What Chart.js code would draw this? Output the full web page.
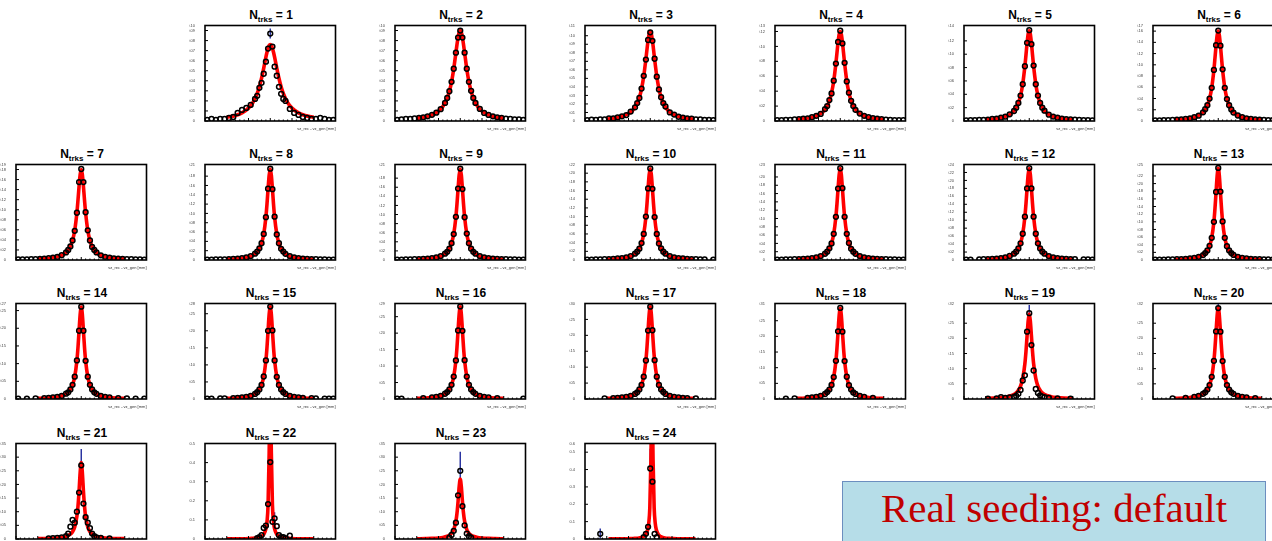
<!DOCTYPE html>
<html>
<head>
<meta charset="utf-8">
<script src="https://cdn.jsdelivr.net/npm/chart.js@4"></script>
<style>
  body { margin: 0; width: 1272px; height: 541px; overflow: hidden; background: #fff; position: relative; font-family: "Liberation Sans", Arial, sans-serif; }
  .ttl { position: absolute; width: 132px; text-align: center; font-weight: bold; font-size: 12px; line-height: 12px; white-space: nowrap; color: #000; }
  .ttl sub { font-size: 8px; vertical-align: -3px; line-height: 0; }
  canvas { position: absolute; }
  .note { position: absolute; left: 842px; top: 481px; width: 424px; height: 62px; background: #b6dde8; border: 1.5px solid #6c8ebf; box-sizing: border-box; text-align: center; }
  .note span { font-family: "Liberation Serif", "Times New Roman", serif; font-size: 41px; line-height: 52px; color: #c00000; }
</style>
</head>
<body>
<div class="note"><span>Real seeding: default</span></div>
<script>
// bin centres of the histograms and x of the fit samples (half profile, mirrored)
const binX = [-0.29,-0.27,-0.25,-0.23,-0.21,-0.19,-0.17,-0.15,-0.13,-0.11,-0.09,-0.07,-0.06,-0.05,-0.04,-0.03,-0.02,-0.01,0,
  0.01,0.02,0.03,0.04,0.05,0.06,0.07,0.09,0.11,0.13,0.15,0.17,0.19,0.21,0.23,0.25,0.27,0.29];
const fitX = [0,0.005,0.01,0.015,0.02,0.03,0.04,0.05,0.06,0.08,0.1,0.13,0.16,0.2];

const nTrks = [1,2,3,4,5,6,7,8,9,10,11,12,13,14,15,16,17,18,19,20,21,22,23,24];
const yMax  = [0.095,0.095,0.112,0.128,0.143,0.17,0.19,0.205,0.21,0.22,0.23,0.24,0.25,0.27,0.28,0.29,0.3,0.305,0.315,0.315,0.35,0.5,0.35,0.55];
const yStep = [0.01,0.01,0.01,0.02,0.02,0.02,0.02,0.02,0.02,0.02,0.02,0.02,0.02,0.05,0.05,0.05,0.05,0.05,0.05,0.05,0.05,0.1,0.05,0.1];
const fitMean = [0,0,0,0,0,0,0,0,0,0,0,0,0,0,0,0,0,0,0,0,0,0,0,0.008];

const d1 = [0.001,0.002,0.001,0.002,0.002,0.003,0.004,0.008,0.011,0.013,0.016,0.022,0.025,0.033,0.038,0.047,0.059,0.072,0.087,
  0.074,0.054,0.045,0.034,0.027,0.022,0.02,0.012,0.008,0.006,0.004,0.003,0.002,0.002,0.003,0.002,0.001,0.001];
const f1 = [0.076,0.0751,0.0724,0.0684,0.0635,0.0526,0.0425,0.034,0.0274,0.0182,0.0128,0.0081,0.0055,0.0036];
const d2 = [0.001,0.0015,0.002,0.002,0.0025,0.003,0.0037,0.0047,0.0061,0.0083,0.0118,0.018,0.0229,0.0296,0.039,0.052,0.068,0.083,0.09,
  0.083,0.068,0.052,0.039,0.03,0.023,0.018,0.012,0.008,0.006,0.0047,0.0037,0.003,0.0024,0.002,0.0017,0.0015,0.001];
const f2 = [0.09,0.0882,0.0833,0.076,0.0679,0.0518,0.039,0.0296,0.0229,0.0145,0.0098,0.0061,0.0041,0.0027];
const d3 = [0.001,0.0015,0.0013,0.002,0.002,0.003,0.003,0.0042,0.0055,0.007,0.011,0.016,0.021,0.027,0.038,0.053,0.072,0.095,0.104,
  0.094,0.073,0.052,0.037,0.028,0.021,0.017,0.010,0.0075,0.005,0.004,0.003,0.0027,0.002,0.0018,0.0014,0.0013,0.001];
const f3 = [0.105,0.102,0.0945,0.084,0.0727,0.0525,0.0378,0.0278,0.021,0.0129,0.0087,0.0053,0.0036,0.0023];
const d4 = [0.001,0.001,0.0014,0.0016,0.002,0.0025,0.003,0.0036,0.005,0.007,0.0095,0.016,0.02,0.028,0.037,0.054,0.077,0.106,0.121,
  0.104,0.078,0.053,0.038,0.027,0.02,0.015,0.01,0.007,0.005,0.0038,0.003,0.0024,0.0019,0.0016,0.0013,0.0011,0.001];
const f4 = [0.12,0.116,0.1056,0.0917,0.0775,0.0536,0.0376,0.0271,0.0202,0.0122,0.0082,0.0049,0.0034,0.0022];
const d5 = [0.001,0.0012,0.0013,0.0017,0.0018,0.0022,0.003,0.0035,0.005,0.0065,0.01,0.015,0.02,0.027,0.038,0.055,0.082,0.117,0.136,
  0.115,0.083,0.055,0.038,0.027,0.02,0.0155,0.0095,0.0067,0.005,0.0036,0.0029,0.0023,0.002,0.0016,0.0013,0.0011,0.001];
const f5 = [0.135,0.13,0.1164,0.0992,0.0824,0.0554,0.0379,0.027,0.02,0.012,0.008,0.0049,0.0032,0.002];
const d6 = [0.001,0.0011,0.0014,0.0015,0.002,0.0023,0.003,0.0036,0.0048,0.0068,0.0095,0.0155,0.021,0.028,0.04,0.059,0.091,0.135,0.161,
  0.134,0.092,0.059,0.039,0.028,0.0205,0.015,0.0098,0.0067,0.0048,0.0037,0.0029,0.0023,0.0019,0.0016,0.0013,0.0011,0.001];
const f6 = [0.16,0.1528,0.1346,0.1123,0.091,0.0592,0.0398,0.028,0.0205,0.0122,0.008,0.0048,0.0032,0.0021];
const d7 = [0.001,0.001,0.0012,0.0015,0.0018,0.0021,0.0027,0.0035,0.0045,0.0062,0.0095,0.015,0.02,0.027,0.039,0.058,0.094,0.155,0.181,
  0.155,0.095,0.059,0.039,0.026,0.02,0.015,0.0093,0.0063,0.0045,0.0034,0.0027,0.0022,0.0018,0.0015,0.0013,0.0011,0.0009];
const f7 = [0.18,0.1703,0.1467,0.1192,0.0943,0.0592,0.0389,0.027,0.0196,0.0116,0.0076,0.0045,0.0031,0.002];
const d8 = [0.0008,0.001,0.0012,0.0013,0.0015,0.002,0.0024,0.003,0.004,0.0058,0.0085,0.0135,0.018,0.025,0.036,0.056,0.092,0.153,0.196,
  0.152,0.093,0.055,0.036,0.024,0.018,0.0133,0.0084,0.0057,0.0041,0.003,0.0024,0.0019,0.0016,0.0013,0.0011,0.001,0.0008];
const f8 = [0.195,0.1823,0.1527,0.1201,0.0924,0.0558,0.0359,0.0246,0.0177,0.0103,0.0068,0.0041,0.0027,0.0018];
const d9 = [0.0009,0.001,0.0011,0.0013,0.0017,0.002,0.0025,0.0032,0.0042,0.0057,0.0087,0.014,0.018,0.025,0.037,0.057,0.095,0.157,0.201,
  0.156,0.094,0.058,0.037,0.025,0.018,0.0138,0.0086,0.0058,0.0042,0.0032,0.0025,0.002,0.0016,0.0014,0.0011,0.001,0.0009];
const f9 = [0.2,0.187,0.1566,0.1232,0.0948,0.0572,0.0368,0.0252,0.0182,0.0106,0.007,0.0042,0.0028,0.0018];
const d10 = [0.0009,0.001,0.0012,0.0015,0.0017,0.002,0.0026,0.0034,0.0045,0.006,0.009,0.0145,0.019,0.026,0.039,0.06,0.1,0.165,0.211,
  0.164,0.099,0.06,0.038,0.027,0.019,0.0145,0.009,0.0061,0.0044,0.0034,0.0026,0.0021,0.0017,0.0014,0.0012,null,0.0009];
const f10 = [0.21,0.1964,0.1644,0.1294,0.0995,0.0601,0.0386,0.0265,0.0191,0.0111,0.0074,0.0044,0.0029,0.0019];
const d11 = [0.0009,0.0011,0.0013,0.0015,0.0018,0.0022,0.0027,0.0035,0.0046,0.0064,0.0095,0.015,0.02,0.028,0.04,0.063,0.104,0.172,0.221,
  0.173,0.104,0.063,0.041,0.027,0.02,0.015,0.0095,0.0064,0.0046,0.0035,0.0027,0.0022,0.0018,0.0015,0.0013,0.0011,0.0009];
const f11 = [0.22,0.2057,0.1723,0.1355,0.1043,0.0629,0.0405,0.0277,0.02,0.0117,0.0077,0.0046,0.0031,0.002];
const d12 = [0.001,0.0011,null,0.0016,0.0019,0.0023,0.0028,0.0037,0.0048,0.0067,0.01,0.016,0.021,0.029,0.042,0.066,0.109,0.18,0.231,
  0.18,0.109,0.066,0.042,0.029,0.021,0.016,0.0099,0.0067,0.0048,0.0037,0.0028,0.0023,0.0019,null,0.0013,0.0012,0.001];
const f12 = [0.23,0.2151,0.1801,0.1417,0.109,0.0658,0.0423,0.029,0.0209,0.0122,0.0081,0.0048,0.0032,0.0021];
const d13 = [0.0008,0.001,0.0011,0.0013,0.0016,0.0019,0.0024,0.003,0.0041,0.0055,0.0082,0.013,0.018,0.025,0.037,0.058,0.1,0.178,0.241,
  0.179,0.101,0.058,0.036,0.025,0.018,0.0134,0.0082,0.0055,0.0041,0.003,0.0024,0.0019,0.0016,0.0013,0.0011,0.001,0.0008];
const f13 = [0.24,0.2208,0.1783,0.1349,0.1006,0.0583,0.0367,0.025,0.0178,0.0103,0.0067,0.0041,0.0026,0.0017];
const d14 = [0.0009,null,0.0012,null,0.0017,null,0.0026,0.0033,0.0044,0.006,0.0088,0.015,0.019,0.027,0.04,0.063,0.109,0.193,0.261,
  0.193,0.108,0.063,0.04,0.027,0.019,0.0146,0.0088,0.006,0.0044,null,0.0026,null,0.0017,null,0.0012,null,0.0009];
const f14 = [0.26,0.2392,0.1932,0.1461,0.1089,0.0632,0.0398,0.027,0.0192,0.0112,0.0073,0.0044,0.0029,0.0018];
const d15 = [0.0009,0.0011,null,0.0015,0.0018,null,0.0027,0.0034,0.0046,0.0062,0.0092,0.015,0.02,0.028,0.041,0.066,0.113,0.2,0.271,
  0.201,0.113,0.065,0.041,0.028,0.02,0.015,0.0092,0.0062,0.0046,0.0034,null,0.0022,0.0018,null,0.0012,0.0011,0.0009];
const f15 = [0.27,0.2484,0.2006,0.1517,0.1131,0.0656,0.0413,0.0281,0.02,0.0116,0.0076,0.0046,0.003,0.0019];
const d16 = [0.001,0.0011,null,null,null,null,0.0028,null,0.0048,0.0064,0.0095,0.016,0.021,0.029,0.043,0.068,0.117,0.208,0.281,
  0.207,0.118,0.068,0.043,0.029,0.021,0.0157,0.0095,0.0064,0.0048,null,0.0028,null,null,null,null,null,0.001];
const f16 = [0.28,0.2576,0.208,0.1574,0.1173,0.068,0.0428,0.0291,0.0207,0.012,0.0078,0.0048,0.0031,0.002];
const d17 = [null,null,null,null,0.0019,null,0.0029,0.0037,0.0049,0.0067,0.0099,0.016,0.021,0.03,0.044,0.07,0.121,0.215,0.29,
  0.216,0.122,0.07,0.044,0.03,0.022,0.016,0.0099,0.0067,0.0049,0.0037,0.0029,null,0.0019,null,null,null,null];
const f17 = [0.29,0.2668,0.2155,0.163,0.1215,0.0705,0.0444,0.0302,0.0215,0.0125,0.0081,0.0049,0.0032,0.002];
const d18 = [null,null,0.0013,null,0.0019,null,null,0.0037,0.0049,0.0066,0.01,0.016,0.022,0.03,0.045,0.07,0.122,0.216,0.291,
  0.215,0.121,0.071,0.044,0.03,0.021,0.0162,0.0099,0.0067,null,0.0037,null,null,null,null,null,null,null];
const f18 = [0.29,0.2668,0.2155,0.163,0.1215,0.0705,0.0444,0.0302,0.0215,0.0125,0.0081,0.0049,0.0032,0.002];
const d19 = [null,null,null,null,null,0.001,null,0.002,0.006,0.004,0.005,0.007,0.01,0.017,0.03,0.061,0.078,0.222,0.283,
  0.178,0.094,0.033,0.02,0.012,0.008,0.006,0.004,null,0.002,null,null,0.001,null,null,null,null,null];
const f19 = [0.28,0.2576,0.208,0.1574,0.1173,0.068,0.0428,0.0291,0.0207,0.012,0.0078,0.0048,0.0031,0.002];
const d20 = [null,null,null,null,0.002,null,null,0.0038,null,0.0069,0.0102,0.017,0.022,0.031,0.046,0.073,0.126,0.223,0.3,
  0.222,0.125,0.073,0.046,0.031,0.022,0.017,0.0102,0.0069,0.0051,null,0.003,null,null,null,null,null,null];
const f20 = [0.3,0.276,0.2229,0.1686,0.1257,0.0729,0.0459,0.0312,0.0222,0.0129,0.0084,0.0051,0.0033,0.0021];
const d21 = [null,null,null,null,null,null,null,0.002,0.003,0.004,0.006,0.01,0.02,0.045,0.07,0.06,0.1,0.17,0.27,
  0.13,0.08,0.06,0.04,0.02,0.01,0.006,0.004,null,0.002,null,null,null,null,null,null,null,null];
const f21 = [0.28,0.2439,0.1758,0.1201,0.0832,0.0442,0.0267,0.0176,0.0126,0.0073,0.0046,0.0028,0.0018,0.0012];
const d22 = [null,null,null,null,null,null,null,null,null,null,null,null,0.005,0.01,0.02,0.058,0.07,0.183,0.403,
  0.09,0.108,0.067,0.02,0.01,0.01,0.005,0.017,null,null,null,null,null,null,null,null,null,null];
const f22 = [0.9,0.45,0.18,0.09,0.053,0.024,0.014,0.009,0.006,0.004,0.002,0.001,0.001,0.0005];
const d23 = [null,null,null,null,null,null,null,null,null,null,null,null,null,0.005,0.015,0.03,0.06,0.16,0.25,
  0.12,0.05,0.02,0.01,0.005,null,null,null,null,null,null,null,null,null,null,null,null,null];
const f23 = [0.22,0.1916,0.1382,0.0944,0.0653,0.0348,0.021,0.0139,0.0099,0.0057,0.0037,0.0022,0.0015,0.0009];
const d24 = [null,null,null,0.03,null,null,null,null,null,null,null,null,null,null,null,0.01,0.03,0.07,0.406,
  0.33,0.03,0.01,null,null,null,null,null,null,null,null,null,null,null,null,null,null,null];
const f24 = [0.9,0.45,0.18,0.09,0.053,0.024,0.014,0.009,0.006,0.004,0.002,0.001,0.001,0.0005];

// vertical error bars worth drawing: [x, low, high]
const err1 = [[0, 0.082, 0.092]];
const err19 = [[0, 0.268, 0.31]];
const err20 = [[0, 0.29, 0.315]];
const err21 = [[0, 0.22, 0.33]];
const err22 = [[0.02, 0.08, 0.14]];
const err23 = [[0, 0.2, 0.32]];
const err24 = [[0, 0.2, 0.52], [-0.23, 0.005, 0.06]];

const panelData = [d1,d2,d3,d4,d5,d6,d7,d8,d9,d10,d11,d12,d13,d14,d15,d16,d17,d18,d19,d20,d21,d22,d23,d24];
const panelFit = [f1,f2,f3,f4,f5,f6,f7,f8,f9,f10,f11,f12,f13,f14,f15,f16,f17,f18,f19,f20,f21,f22,f23,f24];
const panelErr = { 1: err1, 19: err19, 20: err20, 21: err21, 22: err22, 23: err23, 24: err24 };

// page layout
const colLeft = [16, 205, 395, 585, 775, 964, 1153];
const rowTop = [22, 161, 300, 440];
const plotW = 132, plotH = 99;

const frame = {
  id: 'frame',
  afterDatasetsDraw(chart) {
    const { ctx, chartArea: a, scales: { x, y } } = chart;
    ctx.save();
    ctx.strokeStyle = '#000';
    ctx.lineWidth = 1;
    ctx.beginPath();
    y.ticks.forEach(t => {
      const py = y.getPixelForValue(t.value);
      ctx.moveTo(a.left, py); ctx.lineTo(a.left + 3, py);
    });
    for (let k = -15; k <= 15; k++) {
      const px = x.getPixelForValue(k * 0.02);
      const len = (k % 5 === 0) ? 3 : 1.5;
      ctx.moveTo(px, a.bottom); ctx.lineTo(px, a.bottom - len);
    }
    ctx.stroke();
    ctx.lineWidth = 1.6;
    ctx.strokeRect(a.left, a.top, a.right - a.left, a.bottom - a.top);
    ctx.font = '4px "Liberation Sans"';
    ctx.fillStyle = '#333';
    ctx.textAlign = 'right';
    ctx.fillText('vz_rec - vz_gen [mm]', a.right, a.bottom + 9);
    ctx.restore();
  }
};

nTrks.forEach((n, i) => {
  let row, col;
  if (n <= 6) { row = 0; col = n; }
  else if (n <= 13) { row = 1; col = n - 7; }
  else if (n <= 20) { row = 2; col = n - 14; }
  else { row = 3; col = n - 21; }
  const left = colLeft[col], top = rowTop[row];

  const ttl = document.createElement('div');
  ttl.className = 'ttl';
  ttl.style.left = left + 'px';
  ttl.style.top = (top - 13) + 'px';
  ttl.innerHTML = 'N<sub>trks</sub> = ' + n;
  document.body.appendChild(ttl);

  const cv = document.createElement('canvas');
  cv.width = 16 + plotW + 4;
  cv.height = 2 + plotH + 10;
  cv.style.left = (left - 16) + 'px';
  cv.style.top = (top - 2) + 'px';
  document.body.appendChild(cv);

  const pts = [];
  panelData[i].forEach((v, k) => { if (v !== null) pts.push({ x: binX[k], y: v }); });

  const m = fitMean[i];
  const fitPts = [];
  for (let k = fitX.length - 1; k > 0; k--) fitPts.push({ x: m - fitX[k], y: panelFit[i][k] });
  for (let k = 0; k < fitX.length; k++) fitPts.push({ x: m + fitX[k], y: panelFit[i][k] });

  const errPts = [];
  (panelErr[n] || []).forEach(e => {
    errPts.push({ x: e[0], y: e[1] }, { x: e[0], y: e[2] }, { x: e[0], y: null });
  });

  new Chart(cv, {
    type: 'scatter',
    data: {
      datasets: [
        { data: pts, borderColor: '#000', backgroundColor: 'rgba(0,0,0,0)', pointRadius: 2.4, pointBorderWidth: 1.5, order: 0 },
        { type: 'line', data: fitPts, borderColor: '#ff0000', borderWidth: 3.6, pointRadius: 0, cubicInterpolationMode: 'monotone', order: 1 },
        { type: 'line', data: errPts, borderColor: '#1f2a9c', borderWidth: 1.4, pointRadius: 0, spanGaps: false, order: 2 }
      ]
    },
    options: {
      responsive: false,
      animation: false,
      events: [],
      layout: { padding: { top: 2, right: 4, left: 0, bottom: 0 } },
      plugins: { legend: { display: false }, tooltip: { enabled: false } },
      scales: {
        x: {
          type: 'linear', min: -0.3, max: 0.3,
          grid: { display: false }, border: { display: false },
          ticks: { stepSize: 0.1, font: { size: 4, family: 'Liberation Sans' }, color: '#444', padding: 1, maxRotation: 0, autoSkip: false },
          afterFit(s) { s.height = 10; }
        },
        y: {
          min: 0, max: yMax[i],
          grid: { display: false }, border: { display: false },
          ticks: { stepSize: yStep[i], font: { size: 4, family: 'Liberation Sans' }, color: '#444', padding: 2, autoSkip: false },
          afterFit(s) { s.width = 16; }
        }
      }
    },
    plugins: [frame]
  });
});
</script>
</body>
</html>
